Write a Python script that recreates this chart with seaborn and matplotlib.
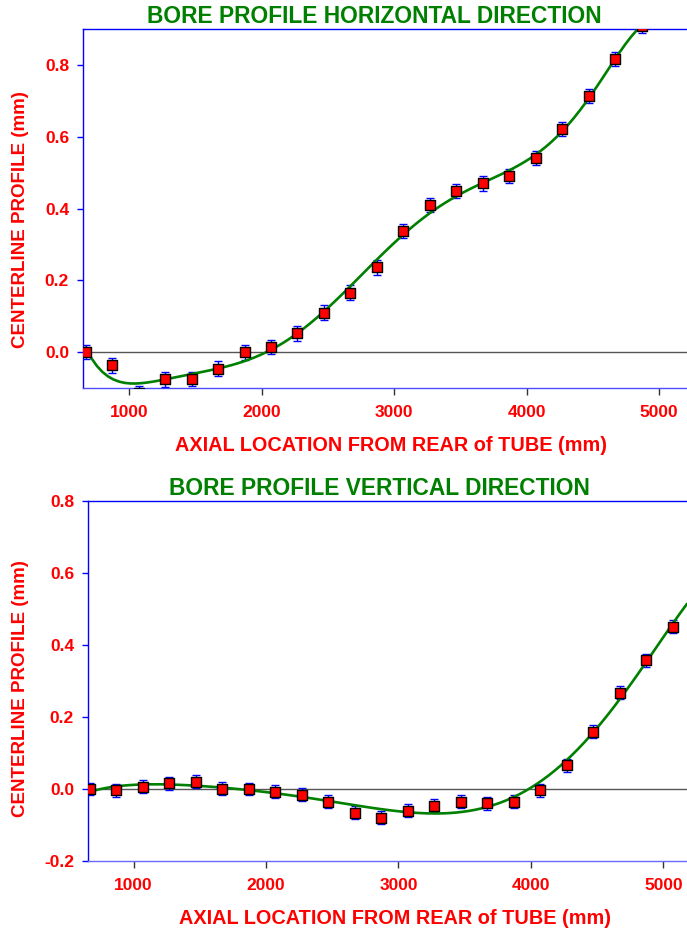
import matplotlib
matplotlib.use("Agg")
import matplotlib.pyplot as plt
import seaborn as sns
import numpy as np
import pandas as pd

sns.set_style("white")
plt.rcParams['font.family'] = ['Liberation Sans', 'DejaVu Sans']
plt.rcParams['axes.unicode_minus'] = False

# ---- data ----
x_horiz = [670, 870, 1070, 1270, 1470, 1670, 1870, 2070, 2270, 2470, 2670,
           2870, 3070, 3270, 3470, 3670, 3870, 4070, 4270, 4470, 4670, 4870]
y_horiz = [0.000, -0.037, -0.115, -0.076, -0.075, -0.046, -0.001, 0.015, 0.052,
           0.110, 0.166, 0.236, 0.337, 0.409, 0.448, 0.470, 0.490, 0.540,
           0.622, 0.713, 0.817, 0.908]
err_horiz = 0.02

x_vert = [670, 870, 1070, 1270, 1470, 1670, 1870, 2070, 2270, 2470, 2670,
          2870, 3070, 3270, 3470, 3670, 3870, 4070, 4270, 4470, 4670, 4870, 5070]
y_vert = [0.000, -0.004, 0.006, 0.016, 0.020, 0.001, 0.000, -0.007, -0.016,
          -0.036, -0.066, -0.080, -0.060, -0.047, -0.035, -0.040, -0.035,
          -0.003, 0.066, 0.159, 0.268, 0.357, 0.451]
err_vert = 0.018

x_ticks = [1000, 2000, 3000, 4000, 5000]
yticks_h = [0.0, 0.2, 0.4, 0.6, 0.8]
yticks_v = [-0.2, 0.0, 0.2, 0.4, 0.6, 0.8]

titles = ["BORE PROFILE HORIZONTAL DIRECTION", "BORE PROFILE VERTICAL DIRECTION"]
xlabel = "AXIAL LOCATION FROM REAR of TUBE (mm)"
ylabel = "CENTERLINE PROFILE (mm)"

W, H = 687, 930
fig = plt.figure(figsize=(W / 100, H / 100), dpi=100)

def make_axes(l, t, r, b):
    return fig.add_axes([l / W, 1 - b / H, (r - l) / W, (b - t) / H])

ax1 = make_axes(83, 29, 687, 388)
ax2 = make_axes(88, 501, 687, 861)

GREEN = "#008000"
RED = "#ff0000"

def style(ax, left_px, xs, ys, err, xlim, ylim, yticks, title, order, truncate,
          bottom_color, ylab_y, title_x, xlab_x):
    width_px = W - left_px
    ax.set_xlim(*xlim)
    ax.set_ylim(*ylim)
    ax.axhline(0, color="#555555", lw=1.0, zorder=1)
    df = pd.DataFrame({"x": xs, "y": ys})
    sns.regplot(data=df, x="x", y="y", order=order, ci=None, scatter=False,
                truncate=truncate, ax=ax,
                line_kws=dict(color=GREEN, lw=1.9, zorder=4))
    ax.errorbar(xs, ys, yerr=err, fmt="none", ecolor="blue", elinewidth=1.0,
                capsize=3, capthick=1.0, zorder=3)
    sns.scatterplot(data=df, x="x", y="y", marker="s", s=45, color=RED,
                    edgecolor="black", linewidth=1.0, ax=ax, zorder=5)
    ax.set_xlim(*xlim)
    ax.set_ylim(*ylim)
    ax.set_xticks(x_ticks)
    ax.set_xticklabels([str(v) for v in x_ticks])
    ax.set_yticks(yticks)
    ax.set_yticklabels([f"{v:.1f}" for v in yticks])
    for lab in ax.get_xticklabels() + ax.get_yticklabels():
        lab.set_color(RED)
        lab.set_fontweight("bold")
        lab.set_fontsize(12.5)
    ax.tick_params(axis="x", direction="out", length=5, width=1,
                   color="#333333", pad=7, bottom=True)
    ax.tick_params(axis="y", direction="out", length=4, width=1,
                   color="blue", pad=6, left=True)
    ax.spines["right"].set_visible(False)
    ax.spines["left"].set_color("blue")
    ax.spines["top"].set_color("blue")
    ax.spines["bottom"].set_color(bottom_color)
    for s in ["left", "top", "bottom"]:
        ax.spines[s].set_linewidth(1.0)
    ax.set_xlabel(xlabel, color=RED, fontweight="bold", fontsize=14.3, labelpad=12)
    ax.xaxis.label.set_x(xlab_x)
    ax.set_ylabel(ylabel, color=RED, fontweight="bold", fontsize=13.5)
    ax.yaxis.set_label_coords(-(left_px - 29) / width_px, ylab_y)
    ax.set_title(title, color=GREEN, fontweight="bold", fontsize=16.4, pad=4,
                 x=title_x)
    ax.grid(False)

style(ax1, 83, x_horiz, y_horiz, err_horiz, (650, 5212), (-0.1, 0.9), yticks_h,
      titles[0], 7, True, "#4d4dff", 0.47, 0.483, 0.51)
style(ax2, 88, x_vert, y_vert, err_vert, (656, 5179), (-0.2, 0.8), yticks_v,
      titles[1], 6, False, "#6a6aff", 0.48, 0.487, 0.512)

fig.savefig("out.png", dpi=100)
